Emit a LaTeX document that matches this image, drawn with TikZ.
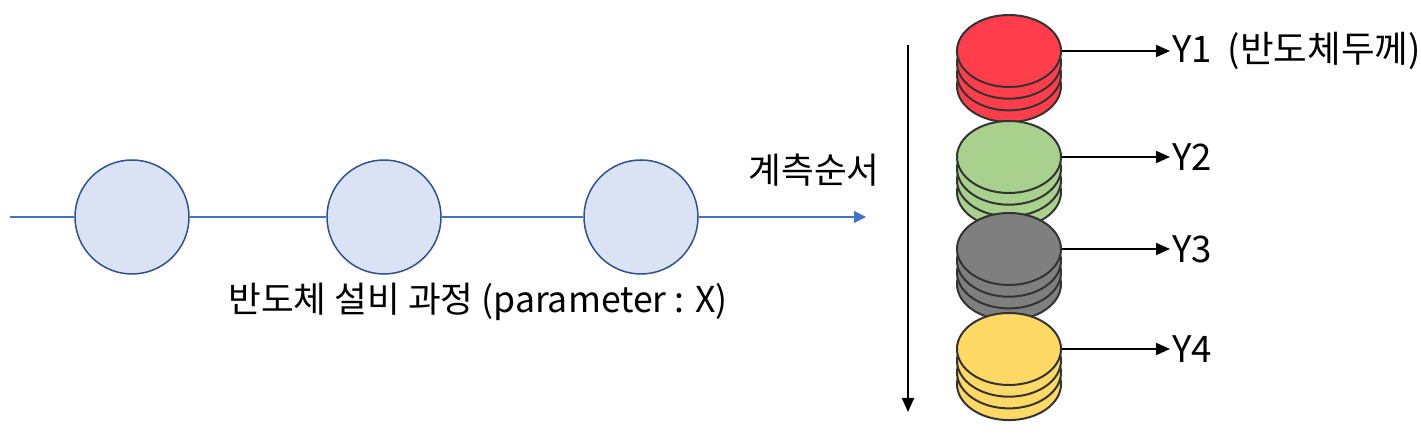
\documentclass[tikz,border=0pt]{standalone}
\usepackage{fontspec}
\setmainfont{Noto Sans CJK KR}
\definecolor{procfill}{HTML}{DAE3F3}
\definecolor{procline}{HTML}{2F528F}
\definecolor{flowblue}{HTML}{4472C4}
\definecolor{waferred}{HTML}{FF3D4B}
\definecolor{wafergreen}{HTML}{A9D18E}
\definecolor{wafergray}{HTML}{7F7F7F}
\definecolor{waferyellow}{HTML}{FFD966}
\usetikzlibrary{shapes.geometric, arrows.meta, positioning}

\begin{document}
\begin{tikzpicture}[x=0.5pt, y=-0.5pt,
  proc/.style={circle, draw=procline, fill=procfill, line width=0.75pt, minimum size=57pt, inner sep=0pt},
  wafer/.style={ellipse, draw=black!80, line width=1pt, minimum width=52pt, minimum height=36pt, inner sep=0pt},
  flow/.style={-{Triangle[length=6pt, width=6pt]}, flowblue, line width=0.6pt},
  arrow/.style={-{Triangle[length=7pt, width=6pt]}, line width=0.9pt},
  lab/.style={font=\fontsize{17.8}{21}\selectfont, inner sep=1pt},
  ylab/.style={font=\fontsize{18.3}{22}\selectfont, inner sep=1pt, anchor=west}
]
  \useasboundingbox (0,0) rectangle (1421,437);

  % Process line
  \coordinate (in) at (10,217);
  \coordinate (out) at (866,217);
  \node[proc] (p1) at (132,217) {};
  \node[proc] (p2) at (384,217) {};
  \node[proc] (p3) at (641,217) {};
  \draw[flow] (in) -- (p1) -- (p2) -- (p3) -- (out);
  \node[lab] (proclab) at (478,302) {반도체 설비 과정 (parameter : X)};

  % Measurement order
  \coordinate (otop) at (908,45);
  \coordinate (obot) at (908,412);
  \draw[arrow] (otop) -- (obot);
  \node[lab, anchor=east] (order) at (882,170) {계측순서};

  % Wafer stacks
  \foreach \i/\cy/\col in {1/51/waferred, 2/157/wafergreen, 3/249/wafergray, 4/349/waferyellow} {
    \foreach \k in {3,2,1}
      \node[wafer, fill=\col] (y\i l\k) at (1009, {\cy+11.7*\k}) {};
    \node[wafer, fill=\col] (y\i) at (1009, \cy) {};
  }
  \node[ylab] (y1lab) at (1170,51) {Y1\hspace{0.2em} (반도체두께)};
  \node[ylab] (y2lab) at (1170,157) {Y2};
  \node[ylab] (y3lab) at (1170,249) {Y3};
  \node[ylab] (y4lab) at (1170,349) {Y4};
  \draw[arrow] (y1.east) -- (y1lab.west);
  \draw[arrow] (y2.east) -- (y2lab.west);
  \draw[arrow] (y3.east) -- (y3lab.west);
  \draw[arrow] (y4.east) -- (y4lab.west);
\end{tikzpicture}
\end{document}
